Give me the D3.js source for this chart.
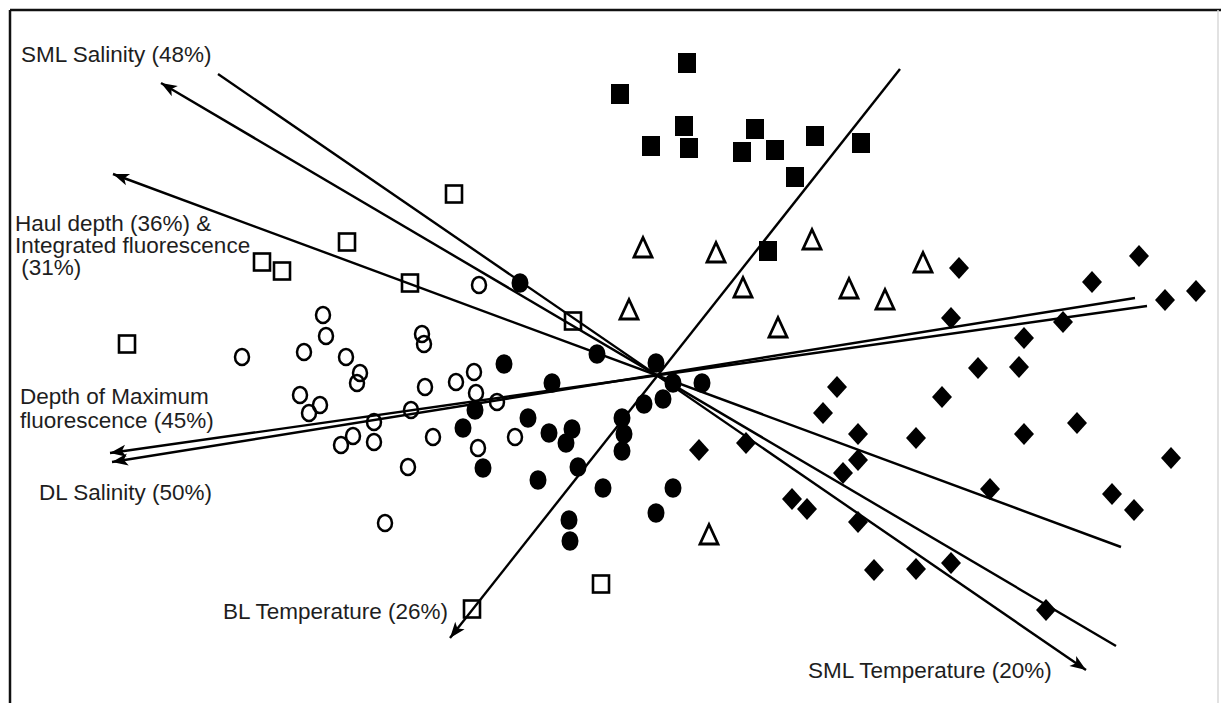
<!DOCTYPE html>
<html>
<head>
<meta charset="utf-8">
<script src="https://cdn.jsdelivr.net/npm/d3@7"></script>
<style>
  body { margin: 0; background: #fff; }
  svg text { font-family: "Liberation Sans", Arial, sans-serif; font-size: 22.5px; fill: #1e1e1e; }
</style>
</head>
<body>
<svg id="chart" width="1221" height="703"></svg>
<script>
// ordination scores (axis units, origin at the vector crossing)
const filledSquares = [[0.32,3.10],[-0.35,2.79],[0.29,2.47],[-0.04,2.27],[0.34,2.25],[1.00,2.44],
  [0.87,2.21],[1.20,2.23],[1.60,2.37],[1.40,1.96],[1.13,1.22],[2.06,2.30]];

const openSquares = [[-2.01,1.79],[-3.08,1.31],[-3.93,1.11],[-3.73,1.02],[-2.45,0.90],
  [-0.82,0.52],[-5.28,0.29],[-1.83,-2.36],[-0.54,-2.11]];

const triangles = [[-0.12,1.25],[0.61,1.20],[1.57,1.33],[0.88,0.85],[1.94,0.84],[2.68,1.10],
  [2.30,0.73],[-0.26,0.63],[1.23,0.45],[0.54,-1.62]];

const diamonds = [[3.04,1.05],[4.37,0.91],[4.84,1.17],[5.41,0.82],[5.10,0.73],[2.96,0.55],
  [4.08,0.51],[3.69,0.35],[3.23,0.05],[3.64,0.06],[1.82,-0.14],[1.68,-0.40],[2.87,-0.24],
  [2.03,-0.61],[2.61,-0.65],[3.69,-0.61],[4.22,-0.50],[2.03,-0.87],[1.88,-1.00],[5.16,-0.85],
  [3.35,-1.16],[4.57,-1.21],[4.79,-1.37],[1.52,-1.36],[2.03,-1.49],[0.44,-0.77],[0.91,-0.70],
  [1.37,-1.26],[2.19,-1.97],[2.61,-1.96],[2.96,-1.90],[3.91,-2.37]];

const openCircles = [[-1.76,0.88],[-3.32,0.58],[-3.29,0.37],[-2.33,0.39],[-2.31,0.29],[-4.13,0.16],
  [-3.51,0.21],[-3.09,0.16],[-2.95,0.00],[-2.98,-0.10],[-3.55,-0.22],[-3.35,-0.32],[-3.46,-0.40],
  [-2.30,-0.14],[-2.44,-0.37],[-2.81,-0.49],[-3.02,-0.63],[-3.14,-0.72],[-2.81,-0.69],[-2.22,-0.64],
  [-2.47,-0.94],[-2.70,-1.50],[-1.81,0.01],[-1.99,-0.09],[-1.79,-0.20],[-1.58,-0.29],[-1.77,-0.75],
  [-1.40,-0.64]];

const filledCircles = [[-1.35,0.90],[-1.51,0.09],[-1.03,-0.10],[-0.58,0.19],[0.01,0.10],[0.18,-0.10],
  [0.47,-0.10],[-1.80,-0.37],[-1.92,-0.55],[-1.27,-0.45],[-1.06,-0.60],[-0.83,-0.56],[-0.89,-0.70],
  [-0.11,-0.31],[0.08,-0.26],[-0.33,-0.45],[-0.31,-0.61],[-0.33,-0.78],[-1.72,-0.95],[-0.77,-0.94],
  [-1.17,-1.07],[-0.52,-1.15],[0.18,-1.15],[0.01,-1.40],[-0.86,-1.47],[-0.85,-1.68]];

// environmental vectors: arrow end and opposite end
const vectorNames = ["SML Temperature", "SML Salinity", "Haul depth", "Depth of max fluorescence", "DL Salinity", "BL Temperature"];
const vectorHeads = [[4.31,-2.97],[-4.94,2.90],[-5.42,1.99],[-5.45,-0.80],[-5.43,-0.89],[-2.05,-2.65]];
const vectorTails = [[-4.37,2.99],[4.61,-2.73],[4.66,-1.74],[4.92,0.67],[4.80,0.75],[2.45,3.04]];

// labels: lines of text and where the first line starts
const labelLines = [
  ["SML Salinity (48%)"],
  ["Haul depth (36%) &", "Integrated fluorescence", " (31%)"],
  ["Depth of Maximum", "fluorescence (45%)"],
  ["DL Salinity (50%)"],
  ["BL Temperature (26%)"],
  ["SML Temperature (20%)"]
];
const labelAnchors = [[-6.34,3.11],[-6.40,1.42],[-6.35,-0.31],[-6.16,-1.27],[-4.32,-2.46],[1.53,-3.05]];

const width = 1221, height = 703;
const svg = d3.select("#chart");

const x = d3.scaleLinear().domain([-6.55, 5.66]).range([0, width]);
const y = d3.scaleLinear().domain([3.73, -3.30]).range([0, height]);

// frame
svg.append("line").attr("x1", 10).attr("x2", width).attr("y1", 10).attr("y2", 10)
  .attr("stroke", "#111").attr("stroke-width", 2.5);
svg.append("line").attr("x1", 10).attr("x2", 10).attr("y1", 10).attr("y2", height)
  .attr("stroke", "#111").attr("stroke-width", 2.5);
svg.append("line").attr("x1", 1218).attr("x2", 1218).attr("y1", 10).attr("y2", height)
  .attr("stroke", "#d8d8d8").attr("stroke-width", 1.5);

svg.append("defs").append("marker")
  .attr("id", "arrow")
  .attr("viewBox", "-17 -7 18 14")
  .attr("refX", 0).attr("refY", 0)
  .attr("markerWidth", 18).attr("markerHeight", 14)
  .attr("markerUnits", "userSpaceOnUse")
  .attr("orient", "auto")
  .append("path")
  .attr("d", "M0,0 L-16,-6 L-12,0 L-16,6 Z")
  .attr("fill", "#000");

// vectors
svg.append("g").selectAll("line")
  .data(vectorNames)
  .join("line")
  .attr("x1", (d, i) => x(vectorTails[i][0]))
  .attr("y1", (d, i) => y(vectorTails[i][1]))
  .attr("x2", (d, i) => x(vectorHeads[i][0]))
  .attr("y2", (d, i) => y(vectorHeads[i][1]))
  .attr("stroke", "#000")
  .attr("stroke-width", 2.4)
  .attr("marker-end", "url(#arrow)");

const pts = svg.append("g");

pts.selectAll("rect.fsq")
  .data(filledSquares)
  .join("rect")
  .attr("class", "fsq")
  .attr("x", d => x(d[0]) - 9)
  .attr("y", d => y(d[1]) - 10)
  .attr("width", 18).attr("height", 20)
  .attr("fill", "#000");

pts.selectAll("rect.osq")
  .data(openSquares)
  .join("rect")
  .attr("class", "osq")
  .attr("x", d => x(d[0]) - 8)
  .attr("y", d => y(d[1]) - 8.5)
  .attr("width", 16).attr("height", 17)
  .attr("fill", "none")
  .attr("stroke", "#000")
  .attr("stroke-width", 2.6);

pts.selectAll("path.tri")
  .data(triangles)
  .join("path")
  .attr("class", "tri")
  .attr("transform", d => `translate(${x(d[0])},${y(d[1])})`)
  .attr("d", "M0,-10.5 L9,9 L-9,9 Z")
  .attr("fill", "none")
  .attr("stroke", "#000")
  .attr("stroke-width", 2.8);

pts.selectAll("path.dia")
  .data(diamonds)
  .join("path")
  .attr("class", "dia")
  .attr("transform", d => `translate(${x(d[0])},${y(d[1])})`)
  .attr("d", "M0,-11 L10,0 L0,11 L-10,0 Z")
  .attr("fill", "#000");

pts.selectAll("ellipse.oc")
  .data(openCircles)
  .join("ellipse")
  .attr("class", "oc")
  .attr("cx", d => x(d[0]))
  .attr("cy", d => y(d[1]))
  .attr("rx", 7).attr("ry", 8)
  .attr("fill", "none")
  .attr("stroke", "#000")
  .attr("stroke-width", 2.5);

pts.selectAll("ellipse.fc")
  .data(filledCircles)
  .join("ellipse")
  .attr("class", "fc")
  .attr("cx", d => x(d[0]))
  .attr("cy", d => y(d[1]))
  .attr("rx", 8.5).attr("ry", 9.8)
  .attr("fill", "#000");

// labels
const lineGap = [0, 22, 24, 0, 0, 0];
const labels = svg.append("g");
labelLines.forEach((lines, i) => {
  const t = labels.append("text")
    .attr("x", x(labelAnchors[i][0]))
    .attr("y", y(labelAnchors[i][1]))
    .style("white-space", "pre");
  lines.forEach((s, j) => {
    t.append("tspan")
      .attr("x", x(labelAnchors[i][0]))
      .attr("dy", j === 0 ? 0 : lineGap[i])
      .text(s);
  });
});
</script>
</body>
</html>
